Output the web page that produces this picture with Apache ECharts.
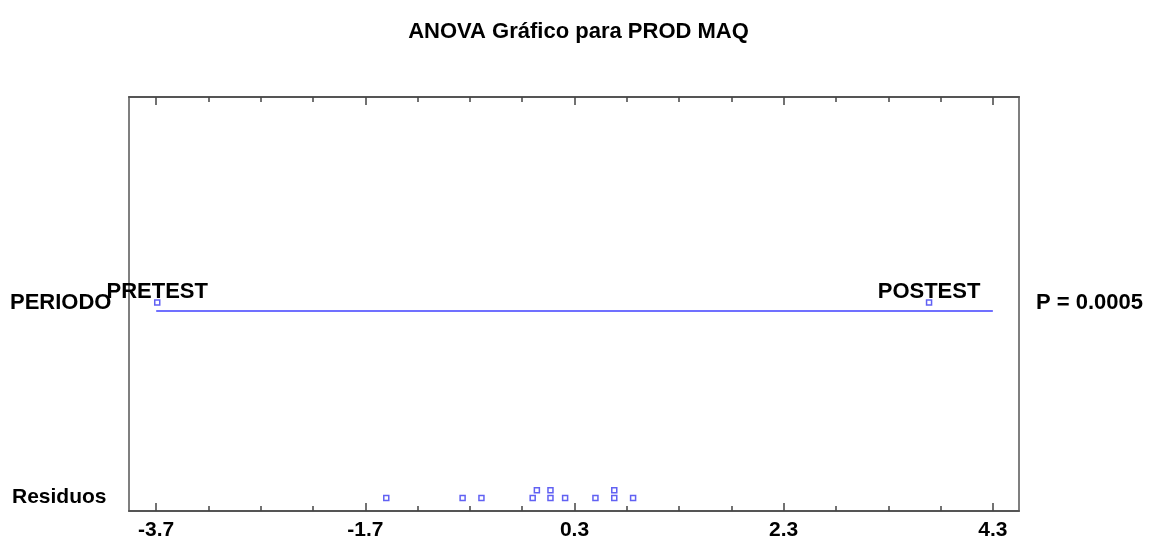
<!DOCTYPE html>
<html>
<head>
<meta charset="utf-8">
<script src="https://cdn.jsdelivr.net/npm/echarts@6/dist/echarts.min.js"></script>
<style>
  html, body { margin: 0; padding: 0; background: #fff; }
  #main { width: 1157px; height: 541px; }
</style>
</head>
<body>
<div id="main"></div>
<script>
// valores
const groups = ["PRETEST", "POSTEST"];
const groupEffects = [-3.69, 3.69];
const residuals = [-1.50, -0.77, -0.59, -0.10, -0.06, 0.07, 0.07, 0.21, 0.50, 0.68, 0.68, 0.86];
const majorTicks = [-3.7, -1.7, 0.3, 2.3, 4.3];
const tickLabels = ["-3.7", "-1.7", "0.3", "2.3", "4.3"];
const pValue = "P = 0.0005";

const FONT = "'Liberation Sans', Arial, sans-serif";
const BLUE = "#3a3af0";

// ticks menores cada 0.5
const minorTicks = [];
for (let v = -3.7; v <= 4.31; v += 0.5) minorTicks.push(+v.toFixed(2));

// filas (y en px desde abajo del área)
const lineY = 200.5;
const pointY = 209;
const resBase = 13;
const resStep = 7.7;

// apilar residuos que se superponen
const resData = [];
residuals.forEach((r) => {
  let level = 0;
  while (resData.some((p) => p.level === level && Math.abs(p.x - r) < 0.07)) level++;
  resData.push({ x: r, level: level });
});

const myChart = echarts.init(document.getElementById("main"));

const tickAxis = (pos, major) => ({
  type: "value",
  position: pos,
  min: -3.96,
  max: 4.55,
  axisLine: { show: major, lineStyle: { color: "#555", width: 2 } },
  axisTick: {
    show: true,
    inside: true,
    length: major ? 8 : 5,
    customValues: major ? majorTicks : minorTicks,
    lineStyle: { color: "#444", width: 1.5 },
  },
  axisLabel: {
    show: major && pos === "bottom",
    customValues: majorTicks,
    margin: 9,
    fontFamily: FONT,
    fontWeight: "bold",
    fontSize: 21,
    color: "#000",
    formatter: (v) => tickLabels[majorTicks.findIndex((m) => Math.abs(m - v) < 1e-6)] ?? "",
  },
  splitLine: { show: false },
});

myChart.setOption({
  animation: false,
  color: ["#4040ff"],
  title: {
    text: "ANOVA Gráfico para PROD MAQ",
    left: "center",
    top: 16,
    textStyle: { fontFamily: FONT, fontWeight: "bold", fontSize: 22, color: "#000" },
  },
  grid: {
    left: 129,
    right: 138,
    top: 97,
    bottom: 29,
    show: true,
    borderColor: "#555",
    borderWidth: 1.5,
    backgroundColor: "#fff",
  },
  xAxis: [
    tickAxis("bottom", true),
    tickAxis("bottom", false),
    tickAxis("top", true),
    tickAxis("top", false),
  ],
  yAxis: { type: "value", min: 0, max: 415, show: false },
  graphic: [
    { type: "text", left: 10, top: 292, style: { text: "PERIODO", font: "bold 22px " + FONT, fill: "#000" } },
    { type: "text", left: 12, top: 487, style: { text: "Residuos", font: "bold 21px " + FONT, fill: "#000" } },
    { type: "text", left: 1036, top: 292, style: { text: pValue, font: "bold 22px " + FONT, fill: "#000" } },
  ],
  series: [
    {
      type: "line",
      data: [[majorTicks[0], lineY], [majorTicks[majorTicks.length - 1], lineY]],
      symbol: "none",
      color: "#4040ff",
      lineStyle: { color: "#4040ff", width: 1.5, opacity: 1 },
      emphasis: { disabled: true },
      silent: true,
      z: 5,
    },
    {
      type: "scatter",
      data: groupEffects.map((v, i) => ({ value: [v, pointY], name: groups[i] })),
      symbol: "rect",
      symbolSize: 5,
      itemStyle: { color: "#fff", borderColor: BLUE, borderWidth: 1.5 },
      label: {
        show: true,
        position: "top",
        distance: -4,
        formatter: (p) => p.name,
        fontFamily: FONT,
        fontWeight: "bold",
        fontSize: 22,
        color: "#000",
        opacity: 1,
        textBorderWidth: 0,
        textBorderColor: "transparent",
      },
      z: 6,
    },
    {
      type: "scatter",
      data: resData.map((p) => [p.x, resBase + p.level * resStep]),
      symbol: "rect",
      symbolSize: 5,
      itemStyle: { color: "#fff", borderColor: BLUE, borderWidth: 1.5 },
    },
  ],
});
</script>
</body>
</html>
